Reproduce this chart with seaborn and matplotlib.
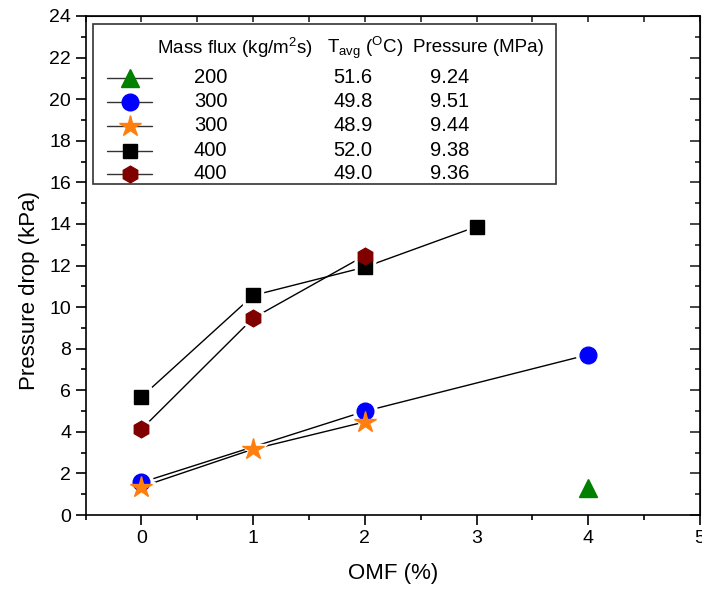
import matplotlib
matplotlib.use('Agg')
import matplotlib.pyplot as plt
from matplotlib.patches import Rectangle
from matplotlib.ticker import MultipleLocator
import pandas as pd
import seaborn as sns

# series: OMF (%) and pressure drop (kPa)
omf_200 = [4]
dp_200 = [1.28]
omf_300a = [0, 2, 4]
dp_300a = [1.57, 4.99, 7.71]
omf_300b = [0, 1, 2]
dp_300b = [1.36, 3.17, 4.48]
omf_400a = [0, 1, 2, 3]
dp_400a = [5.68, 10.56, 11.92, 13.87]
omf_400b = [0, 1, 2]
dp_400b = [4.13, 9.47, 12.48]

mass_flux = ['200', '300', '300', '400', '400']
t_avg = ['51.6', '49.8', '48.9', '52.0', '49.0']
pressure = ['9.24', '9.51', '9.44', '9.38', '9.36']

colors = ['#008000', '#0000ff', '#ff7f0e', '#000000', '#800000']
markers = ['^', 'o', '*', 's', 'h']
msizes = [13, 12, 16, 10, 12]

series = [(omf_200, dp_200), (omf_300a, dp_300a), (omf_300b, dp_300b),
          (omf_400a, dp_400a), (omf_400b, dp_400b)]

sns.set_style('ticks')
plt.rcParams['font.family'] = ['Liberation Sans', 'DejaVu Sans']
plt.rcParams['mathtext.fontset'] = 'custom'
plt.rcParams['mathtext.rm'] = 'Liberation Sans'
plt.rcParams['mathtext.it'] = 'Liberation Sans'
plt.rcParams['text.color'] = 'black'
plt.rcParams['axes.labelcolor'] = 'black'

fig = plt.figure(figsize=(7.02, 5.9), dpi=100)
ax = fig.add_axes([0.122, 0.127, 0.875, 0.846])

# connecting lines, with white gaps around the markers (Origin style)
for (x, y), m, ms in zip(series, markers, msizes):
    df = pd.DataFrame({'omf': x, 'dp': y})
    if len(x) > 1:
        sns.lineplot(data=df, x='omf', y='dp', ax=ax, color='black', lw=1,
                     sort=False, zorder=2)
    ax.plot(x, y, ls='none', marker=m, ms=ms + 5, mfc='white', mec='white',
            zorder=2.5)
for (x, y), c, m, ms in zip(series, colors, markers, msizes):
    ax.plot(x, y, ls='none', marker=m, ms=ms, mfc=c, mec=c, zorder=3)

ax.set_xlim(-0.5, 5)
ax.set_ylim(0, 24)
ax.xaxis.set_major_locator(MultipleLocator(1))
ax.xaxis.set_minor_locator(MultipleLocator(0.5))
ax.yaxis.set_major_locator(MultipleLocator(2))
ax.yaxis.set_minor_locator(MultipleLocator(1))
ax.tick_params(which='major', direction='out', length=7, width=1.2,
               labelsize=14, color='black', labelcolor='black')
ax.tick_params(which='minor', direction='out', length=3.5, width=1.2,
               color='black')
ax.set_xlabel('OMF (%)', fontsize=16, labelpad=12)
ax.set_ylabel('Pressure drop (kPa)', fontsize=16)
ax.yaxis.set_label_coords(-0.075, 0.45)
for s in ax.spines.values():
    s.set_visible(True)
    s.set_linewidth(1.2)
    s.set_color('black')

top = ax.secondary_xaxis('top')
top.xaxis.set_major_locator(MultipleLocator(0.5))
top.tick_params(direction='in', length=4, width=1.2, labeltop=False)
right = ax.secondary_yaxis('right')
right.yaxis.set_major_locator(MultipleLocator(2))
right.yaxis.set_minor_locator(MultipleLocator(1))
right.tick_params(which='major', direction='in', length=7, width=1.2,
                  labelright=False)
right.tick_params(which='minor', direction='in', length=3.5, width=1.2)

# legend table (figure pixel positions converted to axes fractions)
x0, x1, y0, y1 = 86, 700, 515, 16


def ax_xy(px, py):
    return (px - x0) / (x1 - x0), (y0 - py) / (y0 - y1)


bx, by = ax_xy(93, 184)
bx2, by2 = ax_xy(556, 24)
ax.add_patch(Rectangle((bx, by), bx2 - bx, by2 - by, transform=ax.transAxes,
                       fill=True, fc='white', ec='#333333', lw=1.2, zorder=4))

hx, hy = ax_xy(157, 48)
ax.text(hx, hy, 'Mass flux (kg/m$^2$s)', transform=ax.transAxes, fontsize=13.5,
        ha='left', va='center', zorder=5)
hx, hy = ax_xy(327, 48)
ax.text(hx, hy, 'T$_{\\mathrm{avg}}$ ($^{\\mathrm{O}}$C)', transform=ax.transAxes,
        fontsize=13.5, ha='left', va='center', zorder=5)
hx, hy = ax_xy(413, 48)
ax.text(hx, hy, 'Pressure (MPa)', transform=ax.transAxes, fontsize=13.5,
        ha='left', va='center', zorder=5)

row_y = [78, 102, 126, 151, 174]
for i, py in enumerate(row_y):
    lx0, ly = ax_xy(107, py)
    lx1, _ = ax_xy(152, py)
    mx, _ = ax_xy(130, py)
    ax.plot([lx0, lx1], [ly, ly], color='#333333', lw=1, transform=ax.transAxes,
            zorder=5, clip_on=False)
    ax.plot([mx], [ly], ls='none', marker=markers[i], ms=msizes[i],
            mfc=colors[i], mec=colors[i], transform=ax.transAxes, zorder=6,
            clip_on=False)
    for px, txt in zip([211, 353, 450], [mass_flux[i], t_avg[i], pressure[i]]):
        tx, _ = ax_xy(px, py)
        ax.text(tx, ly, txt, transform=ax.transAxes, fontsize=14.5,
                ha='center', va='center', zorder=5)

fig.savefig('out.png', dpi=100)
